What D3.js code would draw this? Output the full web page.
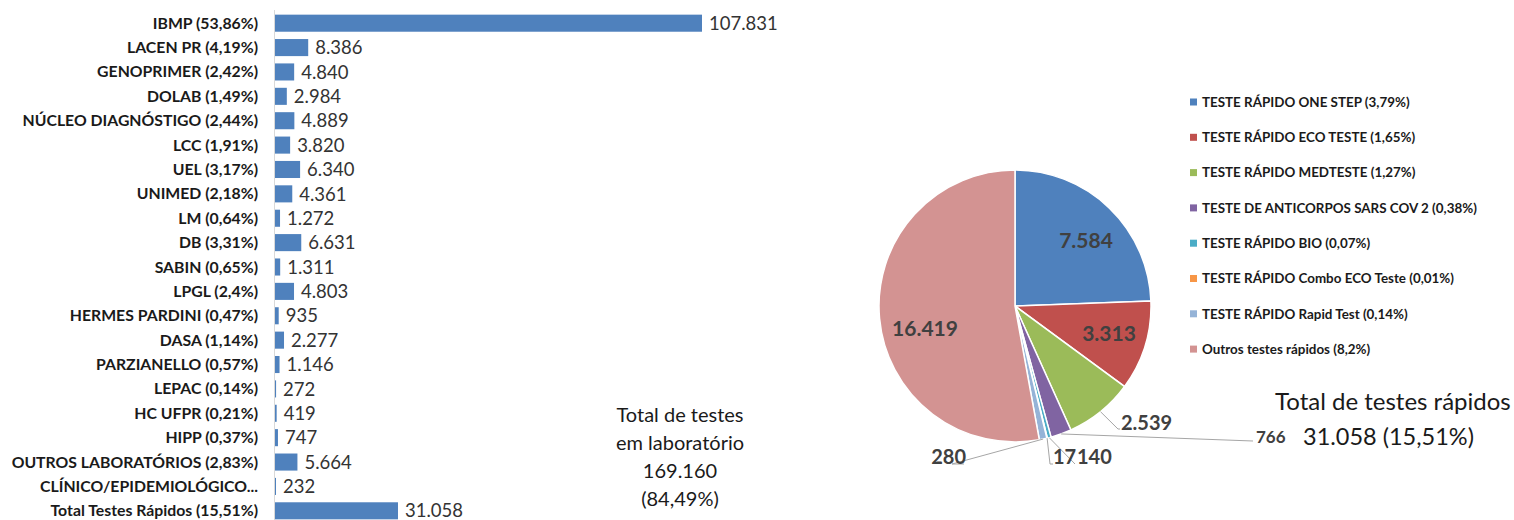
<!DOCTYPE html>
<html>
<head>
<meta charset="utf-8">
<script src="https://cdn.jsdelivr.net/npm/d3@7"></script>
<style>
  body { margin: 0; background: #fff; }
  text { font-family: Lato, "Open Sans", sans-serif; }
</style>
</head>
<body>
<svg id="chart" width="1514" height="520"></svg>
<script>
// lab tests (bar chart)
var labNames = ['IBMP (53,86%)', 'LACEN PR (4,19%)', 'GENOPRIMER (2,42%)', 'DOLAB (1,49%)',
  'NÚCLEO DIAGNÓSTIGO (2,44%)', 'LCC (1,91%)', 'UEL (3,17%)', 'UNIMED (2,18%)', 'LM (0,64%)',
  'DB (3,31%)', 'SABIN (0,65%)', 'LPGL (2,4%)', 'HERMES PARDINI (0,47%)', 'DASA (1,14%)',
  'PARZIANELLO (0,57%)', 'LEPAC (0,14%)', 'HC UFPR (0,21%)', 'HIPP (0,37%)',
  'OUTROS LABORATÓRIOS (2,83%)', 'CLÍNICO/EPIDEMIOLÓGICO...', 'Total Testes Rápidos (15,51%)']
var labValues = [107831, 8386, 4840, 2984, 4889, 3820, 6340, 4361, 1272, 6631, 1311, 4803,
  935, 2277, 1146, 272, 419, 747, 5664, 232, 31058]

// rapid tests (pie chart)
var rapidNames = ['TESTE RÁPIDO ONE STEP (3,79%)', 'TESTE RÁPIDO ECO TESTE (1,65%)',
  'TESTE RÁPIDO MEDTESTE (1,27%)', 'TESTE DE ANTICORPOS SARS COV 2 (0,38%)',
  'TESTE RÁPIDO BIO (0,07%)', 'TESTE RÁPIDO Combo ECO Teste (0,01%)',
  'TESTE RÁPIDO Rapid Test (0,14%)', 'Outros testes rápidos (8,2%)']
var rapidValues = [7584, 3313, 2539, 766, 140, 17, 280, 16419]
var rapidColors = ['#4f81bd', '#c0504d', '#9bbb59', '#8064a2', '#4bacc6', '#f79646', '#95b3d7', '#d39392']

var labTotalLines = ['Total de testes', 'em laboratório', '169.160', '(84,49%)']
var rapidTotalLines = ['Total de testes rápidos', '31.058 (15,51%)']

var fmt = d3.formatLocale({ decimal: ',', thousands: '.', grouping: [3], currency: ['R$', ''] }).format(',d')

var svg = d3.select('#chart')

// ---- bar chart ----
var xScale = d3.scaleLinear()
  .domain([0, d3.max(labValues)])
  .range([275, 702])

var yScale = d3.scaleBand()
  .domain(labNames)
  .range([11, 523])
  .paddingInner(0.3)
  .paddingOuter(0.15)

svg.append('line')
  .attr('x1', 274.5).attr('x2', 274.5)
  .attr('y1', 10).attr('y2', 520)
  .attr('stroke', '#d9d9d9')

var rows = svg.selectAll('g.row')
  .data(labNames)
  .enter().append('g')
  .attr('class', 'row')

rows.append('rect')
  .attr('x', xScale(0))
  .attr('y', d => yScale(d))
  .attr('height', yScale.bandwidth())
  .attr('width', (d, i) => Math.max(1, xScale(labValues[i]) - xScale(0)))
  .attr('fill', '#4f81bd')

rows.append('text')
  .attr('x', 258)
  .attr('y', d => yScale(d) + yScale.bandwidth() / 2)
  .attr('dy', '0.35em')
  .attr('text-anchor', 'end')
  .attr('font-weight', 'bold')
  .attr('font-size', 15.8)
  .attr('fill', '#1a1a1a')
  .text(d => d)

rows.append('text')
  .attr('x', (d, i) => Math.max(xScale(0) + 1, xScale(labValues[i])) + 7)
  .attr('y', d => yScale(d) + yScale.bandwidth() / 2)
  .attr('dy', '0.36em')
  .attr('font-size', 18.5)
  .attr('fill', '#333')
  .text((d, i) => fmt(labValues[i]))

// total of lab tests
svg.append('text')
  .attr('text-anchor', 'middle')
  .attr('font-size', 20)
  .attr('fill', '#1a1a1a')
  .selectAll('tspan')
  .data(labTotalLines)
  .enter().append('tspan')
  .attr('x', 680)
  .attr('y', (d, i) => 422 + i * 28)
  .text(d => d)

// ---- pie chart ----
var cx = 1015, cy = 306, radius = 136

var pie = d3.pie().sort(null).value(d => d)
var arcs = pie(rapidValues)
var arc = d3.arc().innerRadius(0).outerRadius(radius)

var pieG = svg.append('g').attr('transform', 'translate(' + cx + ',' + cy + ')')

pieG.selectAll('path')
  .data(arcs)
  .enter().append('path')
  .attr('d', arc)
  .attr('fill', (d, i) => rapidColors[i])
  .attr('stroke', '#fff')
  .attr('stroke-width', 1.5)

// label placement (relative to pie centre); inside labels have no leader
var labelLayout = [
  { x: 71, y: -65, anchor: 'middle', size: 21, inside: true },
  { x: 94, y: 28, anchor: 'middle', size: 21, inside: true },
  { x: 106, y: 117, anchor: 'start', size: 20 },
  { x: 241, y: 131, anchor: 'start', size: 17 },
  { x: 62, y: 151, anchor: 'start', size: 20 },
  { x: 38, y: 151, anchor: 'start', size: 20 },
  { x: -49, y: 151, anchor: 'end', size: 20 }
  ,{ x: -90, y: 23, anchor: 'middle', size: 21, inside: true }
]

var outer = d3.arc().innerRadius(radius).outerRadius(radius)

arcs.forEach(function (a, i) {
  var l = labelLayout[i]
  if (!l.inside) {
    var p = outer.centroid(a)
    var pts
    if (i === 2) pts = [p, [l.x - 3, l.y + 6], [l.x - 1, l.y + 6]]
    else if (i === 3) pts = [p, [l.x - 3, l.y + 4]]
    else if (i === 4) pts = [p, [l.x - 2, l.y + 7]]
    else if (i === 5) pts = [p, [l.x - 3, l.y + 7], [l.x, l.y + 7]]
    else pts = [p, [l.x - 14, l.y + 7], [l.x - 2, l.y + 7]]
    pieG.append('path')
      .attr('d', d3.line()(pts))
      .attr('fill', 'none')
      .attr('stroke', '#a6a6a6')
      .attr('stroke-width', 1)
  }
  pieG.append('text')
    .attr('x', l.x)
    .attr('y', l.y)
    .attr('dy', '0.35em')
    .attr('text-anchor', l.anchor)
    .attr('font-weight', 'bold')
    .attr('font-size', l.size)
    .attr('fill', '#404040')
    .text(fmt(rapidValues[i]))
})

// legend
var legend = svg.selectAll('g.legend')
  .data(rapidNames)
  .enter().append('g')
  .attr('class', 'legend')
  .attr('transform', (d, i) => 'translate(1190,' + (102 + i * 35.3) + ')')

legend.append('rect')
  .attr('x', 0).attr('y', -3.5)
  .attr('width', 7).attr('height', 7)
  .attr('fill', (d, i) => rapidColors[i])

legend.append('text')
  .attr('x', 12)
  .attr('dy', '0.35em')
  .attr('font-weight', 'bold')
  .attr('font-size', 13.4)
  .attr('fill', '#1a1a1a')
  .text(d => d)

// total of rapid tests
svg.append('text')
  .attr('x', 1275).attr('y', 402).attr('dy', '0.35em')
  .attr('font-size', 24).attr('fill', '#1a1a1a')
  .text(rapidTotalLines[0])
svg.append('text')
  .attr('x', 1303).attr('y', 437).attr('dy', '0.35em')
  .attr('font-size', 23.5).attr('fill', '#1a1a1a')
  .text(rapidTotalLines[1])
</script>
</body>
</html>
